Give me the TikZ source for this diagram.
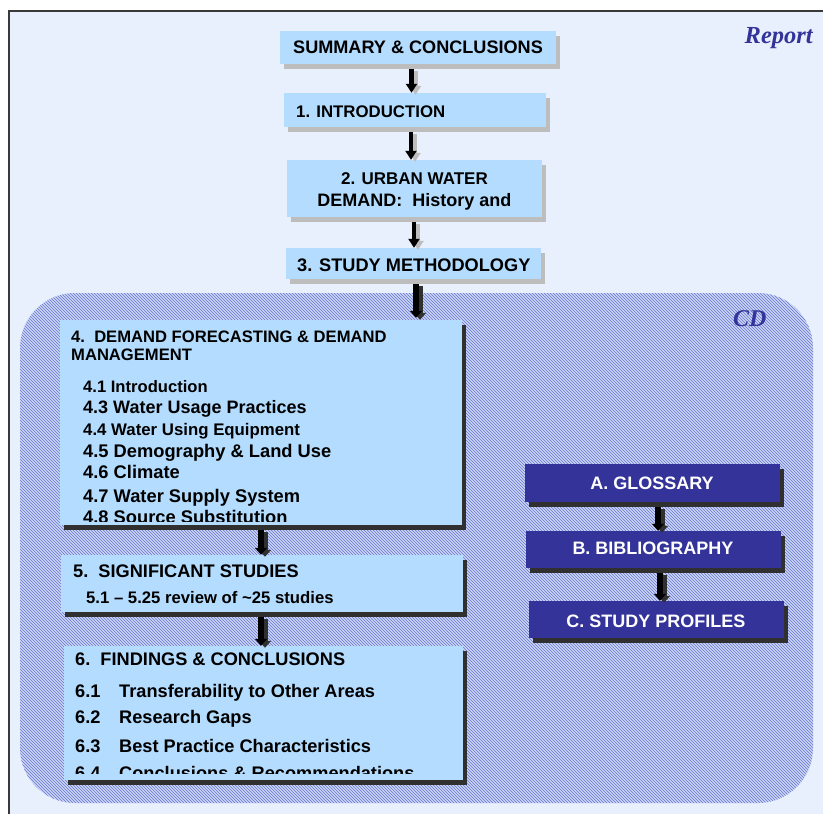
\documentclass[tikz,border=0pt]{standalone}
\usepackage{fontspec}
\setmainfont{Liberation Sans}
\newfontfamily\serifit{Liberation Serif}
\usetikzlibrary{patterns,shadows,arrows.meta}
\newcommand{\myfs}[1]{\fontsize{#1pt}{#1pt}\selectfont}
\definecolor{bgblue}{HTML}{E8F0FD}
\definecolor{boxblue}{HTML}{B3DCFE}
\definecolor{navy}{HTML}{333399}
\definecolor{shgray}{HTML}{BDBDBD}
\definecolor{shdark}{HTML}{303030}
\definecolor{hatchbg}{HTML}{CCD5F5}
\definecolor{hatchln}{HTML}{6676CE}
\definecolor{framecol}{HTML}{3A3A3A}
\begin{document}
\begin{tikzpicture}[x=1pt,y=-1pt,
  topbox/.style={fill=boxblue, draw=none, inner sep=0pt,
    general shadow={fill=shgray, shadow xshift=4pt, shadow yshift=-5pt}},
  cdbox/.style={fill=boxblue, draw=none, inner sep=0pt,
    general shadow={fill=shdark, shadow xshift=4pt, shadow yshift=-5pt}},
  navybox/.style={fill=navy, draw=none, inner sep=0pt,
    general shadow={fill=shdark, shadow xshift=4pt, shadow yshift=-5pt}},
  cdregion/.style={draw=none, inner sep=0pt, rounded corners=55pt,
    preaction={fill=hatchbg}, pattern=north west lines, pattern color=hatchln},
  txt/.style={anchor=base west, inner sep=0pt, text=black},
  ctxt/.style={anchor=base, inner sep=0pt},
  arrtop/.style={line width=4.5pt, black, -{Triangle[width=11pt,length=9pt]}},
  arrtopsh/.style={arrtop, shgray, transform canvas={xshift=4pt, yshift=-2pt}},
  arrcd/.style={line width=6pt, black, -{Triangle[width=12pt,length=7pt]}},
  arrcdsh/.style={arrcd, shdark, transform canvas={xshift=4pt, yshift=-2pt}},
]
\useasboundingbox (0,0) rectangle (823,814);
\fill[white] (0,0) rectangle (823,814);
\fill[bgblue] (9,11) rectangle (823,814);
\draw[framecol, line width=1.2pt] (9,814) -- (9,11) -- (823,11);

% CD region
\node[cdregion, minimum width=793pt, minimum height=510pt] (cd) at (416.5,548) {};

% titles
\node[anchor=base east, inner sep=0pt, text=navy, font=\serifit\bfseries\itshape\myfs{24.5}] (report) at (813,43) {Report};
\node[anchor=base west, inner sep=0pt, text=navy, font=\serifit\bfseries\itshape\myfs{24}] (cdlabel) at (733,326) {CD};

% top boxes
\node[topbox, minimum width=276pt, minimum height=33pt] (b0) at (418,47.5) {};
\node[topbox, minimum width=262pt, minimum height=34pt] (b1) at (415,110) {};
\node[topbox, minimum width=255pt, minimum height=57pt] (b2) at (414.5,188.5) {};
\node[topbox, minimum width=255pt, minimum height=31pt] (b3) at (413.5,263.5) {};

\node[txt, font=\bfseries\myfs{18.1}] (t0) at (293,53) {SUMMARY \& CONCLUSIONS};
\node[txt, font=\bfseries\myfs{16.8}] (t1) at (296,117) {1. INTRODUCTION};
\node[ctxt, font=\bfseries\myfs{17}] (t2a) at (414.5,184) {2. URBAN WATER};
\node[ctxt, font=\bfseries\myfs{18}] (t2b) at (414.5,206) {DEMAND:\ \ History and};
\node[txt, font=\bfseries\myfs{18.2}] (t3) at (297,271) {3. STUDY METHODOLOGY};

% CD boxes
\node[cdbox, minimum width=402pt, minimum height=205pt] (b4) at (261,422.5) {};
\node[cdbox, minimum width=402pt, minimum height=57pt] (b5) at (262,583.5) {};
\node[cdbox, minimum width=399pt, minimum height=134pt] (b6) at (263.5,713) {};

\begin{scope}
\clip (60,320) rectangle (462,521);
\node[txt, font=\bfseries\myfs{16.6}] (t4h1) at (71,342) {4.\ \ DEMAND FORECASTING \& DEMAND};
\node[txt, font=\bfseries\myfs{16.6}] (t4h2) at (71,360) {MANAGEMENT};
\node[txt, font=\bfseries\myfs{16.6}] (t41) at (83,392) {4.1 Introduction};
\node[txt, font=\bfseries\myfs{18}] (t43) at (83,413) {4.3 Water Usage Practices};
\node[txt, font=\bfseries\myfs{16.8}] (t44) at (83,435) {4.4 Water Using Equipment};
\node[txt, font=\bfseries\myfs{18.3}] (t45) at (83,457) {4.5 Demography \& Land Use};
\node[txt, font=\bfseries\myfs{18.3}] (t46) at (83,478) {4.6 Climate};
\node[txt, font=\bfseries\myfs{18.3}] (t47) at (83,502) {4.7 Water Supply System};
\node[txt, font=\bfseries\myfs{18.3}] (t48) at (83,523) {4.8 Source Substitution};
\end{scope}

\node[txt, font=\bfseries\myfs{18.2}] (t5h) at (73,577) {5.\ \ SIGNIFICANT STUDIES};
\node[txt, font=\bfseries\myfs{16.7}] (t51) at (86,603) {5.1 – 5.25 review of \textasciitilde25 studies};

\begin{scope}
\clip (64,646) rectangle (463,773);
\node[txt, font=\bfseries\myfs{18.2}] (t6h) at (75,665) {6.\ \ FINDINGS \& CONCLUSIONS};
\node[txt, font=\bfseries\myfs{18.2}] (t61n) at (75,697) {6.1};
\node[txt, font=\bfseries\myfs{18.2}] (t61) at (119,697) {Transferability to Other Areas};
\node[txt, font=\bfseries\myfs{18.2}] (t62n) at (75,723) {6.2};
\node[txt, font=\bfseries\myfs{18.2}] (t62) at (119,723) {Research Gaps};
\node[txt, font=\bfseries\myfs{18.2}] (t63n) at (75,752) {6.3};
\node[txt, font=\bfseries\myfs{18.2}] (t63) at (119,752) {Best Practice Characteristics};
\node[txt, font=\bfseries\myfs{18.2}] (t64n) at (75,779) {6.4};
\node[txt, font=\bfseries\myfs{18.2}] (t64) at (119,779) {Conclusions \& Recommendations};
\end{scope}

% appendix boxes
\node[navybox, minimum width=255pt, minimum height=38pt] (bA) at (652.5,483) {};
\node[navybox, minimum width=255pt, minimum height=37pt] (bB) at (653.5,549.5) {};
\node[navybox, minimum width=255pt, minimum height=37pt] (bC) at (656.5,619.5) {};
\node[ctxt, text=white, font=\bfseries\myfs{18}] (tA) at (652,489) {A. GLOSSARY};
\node[ctxt, text=white, font=\bfseries\myfs{18}] (tB) at (653,554) {B. BIBLIOGRAPHY};
\node[ctxt, text=white, font=\bfseries\myfs{18}] (tC) at (656,627) {C. STUDY PROFILES};

% arrow columns
\coordinate (c1) at (411.5,0);
\coordinate (c2) at (411,0);
\coordinate (c3) at (414,0);
\coordinate (c4) at (416,0);
\coordinate (c5) at (261,0);
\coordinate (c6) at (658,0);
\coordinate (c7) at (660,0);

\draw[arrtopsh, shorten <=5pt] (b0.south -| c1) -- (b1.north -| c1);
\draw[arrtop, shorten <=5pt] (b0.south -| c1) -- (b1.north -| c1);
\draw[arrtopsh, shorten <=5pt] (b1.south -| c2) -- (b2.north -| c2);
\draw[arrtop, shorten <=5pt] (b1.south -| c2) -- (b2.north -| c2);
\draw[arrtopsh, shorten <=5pt] (b2.south -| c3) -- (b3.north -| c3);
\draw[arrtop, shorten <=5pt] (b2.south -| c3) -- (b3.north -| c3);

\draw[arrcdsh, shorten <=5pt, shorten >=2pt] (b3.south -| c4) -- (b4.north -| c4);
\draw[arrcd, shorten <=5pt, shorten >=2pt] (b3.south -| c4) -- (b4.north -| c4);
\draw[arrcdsh, shorten <=5pt] (b4.south -| c5) -- (b5.north -| c5);
\draw[arrcd, shorten <=5pt] (b4.south -| c5) -- (b5.north -| c5);
\draw[arrcdsh, shorten <=5pt] (b5.south -| c5) -- (b6.north -| c5);
\draw[arrcd, shorten <=5pt] (b5.south -| c5) -- (b6.north -| c5);
\draw[arrcdsh, shorten <=5pt] (bA.south -| c6) -- (bB.north -| c6);
\draw[arrcd, shorten <=5pt] (bA.south -| c6) -- (bB.north -| c6);
\draw[arrcdsh, shorten <=5pt] (bB.south -| c7) -- (bC.north -| c7);
\draw[arrcd, shorten <=5pt] (bB.south -| c7) -- (bC.north -| c7);
\end{tikzpicture}
\end{document}
